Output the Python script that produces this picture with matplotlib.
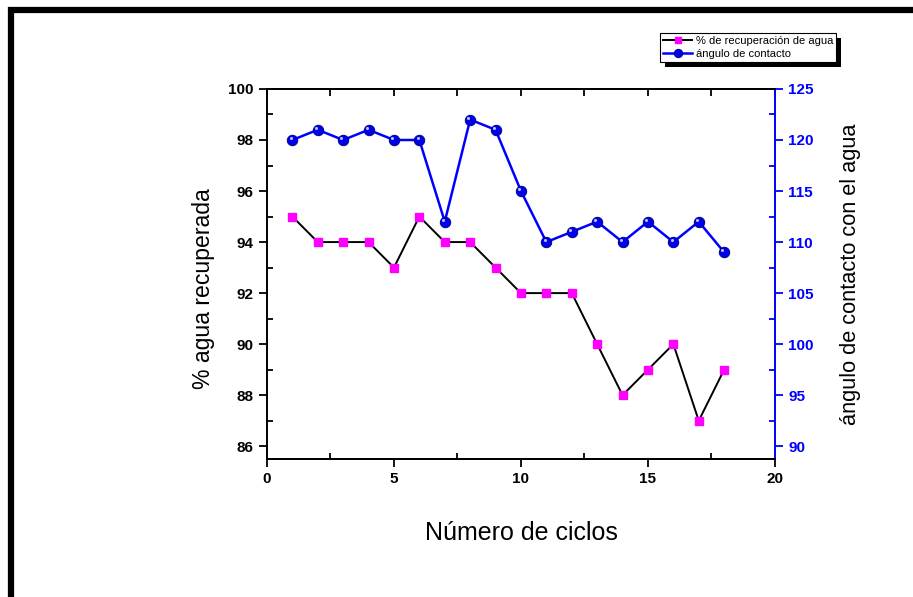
import matplotlib
matplotlib.use('Agg')
import matplotlib.pyplot as plt
import matplotlib.transforms as mtransforms
from matplotlib.patches import Rectangle
from matplotlib.ticker import MultipleLocator

plt.rcParams['font.family'] = ['Liberation Sans', 'DejaVu Sans']

ciclos = [1, 2, 3, 4, 5, 6, 7, 8, 9, 10, 11, 12, 13, 14, 15, 16, 17, 18]
agua = [95, 94, 94, 94, 93, 95, 94, 94, 93, 92, 92, 92, 90, 88, 89, 90, 87, 89]
angulo = [120, 121, 120, 121, 120, 120, 112, 122, 121, 115, 110, 111, 112, 110, 112, 110, 112, 109]

fig = plt.figure(figsize=(9.13, 5.97), dpi=100)
ax = fig.add_axes([0.2924, 0.2312, 0.5564, 0.6198])
ax2 = ax.twinx()

# outer frame (runs off right and bottom edges)
frame = Rectangle((11 / 913, -0.1), 1.2, 1 - 9.5 / 597 + 0.1, transform=fig.transFigure,
                  fill=False, edgecolor='black', linewidth=4.5, zorder=0)
fig.patches.append(frame)

l1, = ax.plot(ciclos, agua, color='black', lw=1.4, marker='s', ms=6,
              mfc='#ff00ff', mec='#ff00ff', label='% de recuperación de agua')
l2, = ax2.plot(ciclos, angulo, color='#0000ff', lw=1.8, marker='o', ms=7.5,
               mfc='#0000ee', mec='#00008b', mew=0.7, label='ángulo de contacto')
# sphere highlight
hl = mtransforms.offset_copy(ax2.transData, fig=fig, x=-1.3, y=1.3, units='points')
ax2.plot(ciclos, angulo, ls='none', marker='o', ms=2.2, mfc='#b8c4ff', mec='none',
         transform=hl)

ax.set_xlim(0, 20)
ax.set_ylim(85.5, 100)
ax2.set_ylim(88.75, 125)

ax.xaxis.set_major_locator(MultipleLocator(5))
ax.xaxis.set_minor_locator(MultipleLocator(2.5))
ax.yaxis.set_major_locator(MultipleLocator(2))
ax.yaxis.set_minor_locator(MultipleLocator(1))
ax2.yaxis.set_major_locator(MultipleLocator(5))
ax2.yaxis.set_minor_locator(MultipleLocator(2.5))

ax.tick_params(axis='both', which='major', direction='out', length=6, width=1.3,
               labelsize=11)
ax.tick_params(axis='both', which='minor', direction='in', length=4, width=1.3)
ax.tick_params(axis='x', which='both', top=False)
for lab in ax.get_xticklabels() + ax.get_yticklabels():
    lab.set_fontweight('bold')

ax2.tick_params(axis='y', which='major', direction='out', length=6, width=1.3,
                labelsize=11, colors='#0000ff')
ax2.tick_params(axis='y', which='minor', direction='in', length=4, width=1.3, colors='#0000ff')
for lab in ax2.get_yticklabels():
    lab.set_fontweight('bold')

for sp in ax.spines.values():
    sp.set_linewidth(1.4)
for sp in ax2.spines.values():
    sp.set_linewidth(1.4)
ax2.spines['right'].set_color('#0000ff')
ax2.spines['left'].set_visible(False)
ax.spines['right'].set_visible(False)

ax.set_xlabel('Número de ciclos', fontsize=18, labelpad=25)
ax.set_ylabel('% agua recuperada', fontsize=16.6)
ax.yaxis.set_label_coords((215 - 267) / 508, (459 - 289) / 370)
ax2.set_ylabel('ángulo de contacto con el agua', fontsize=15.7, labelpad=19)

# top ticks inward
sec = ax.secondary_xaxis('top')
sec.set_xticks([2.5 * i for i in range(9)])
sec.tick_params(direction='in', length=5, width=1.3, labeltop=False)
sec.spines['top'].set_visible(False)

leg = fig.legend(handles=[l1, l2], loc='upper left', bbox_to_anchor=(660 / 913, 1 - 33 / 597),
                 fontsize=8, frameon=True, fancybox=False, handlelength=2.6,
                 handletextpad=0.3, borderpad=0.3, labelspacing=0.25, borderaxespad=0,
                 markerscale=0.8, framealpha=1)
leg.get_frame().set_edgecolor('black')
leg.get_frame().set_facecolor('white')
leg.get_frame().set_linewidth(0.8)
leg.set_zorder(5)

fig.canvas.draw()
bb = leg.get_window_extent()
shadow = Rectangle((bb.x0 + 5, bb.y0 - 5), bb.width, bb.height, transform=None,
                   facecolor='black', edgecolor='none', zorder=4)
fig.patches.append(shadow)

fig.savefig('out.png', dpi=100)
